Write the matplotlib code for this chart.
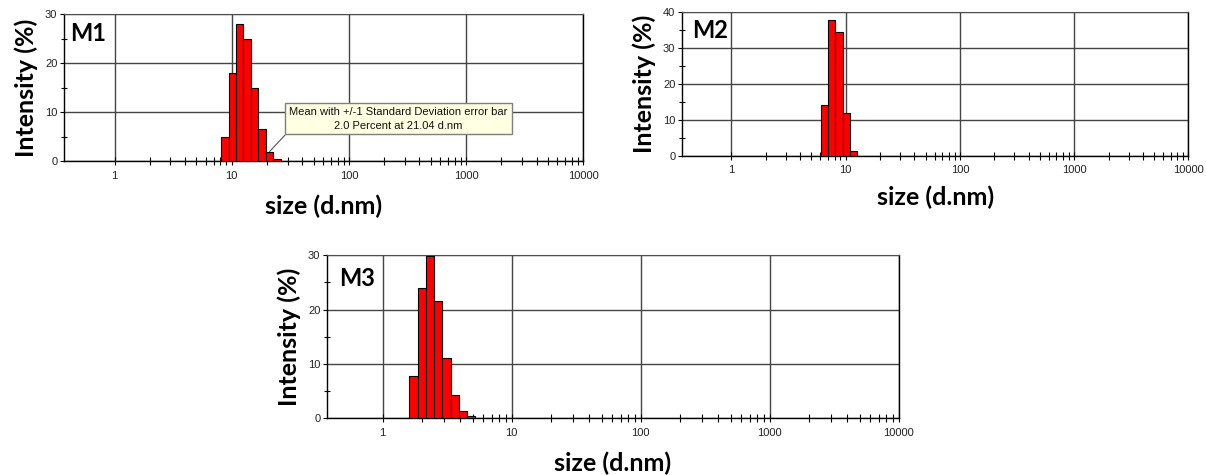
import numpy as np
import matplotlib
matplotlib.use("Agg")
import matplotlib.pyplot as plt
from matplotlib.ticker import FixedLocator, FixedFormatter, NullFormatter

# Zetasizer size classes (d.nm) and intensity distributions (%)
m1_sizes = [8.721, 10.10, 11.70, 13.54, 15.69, 18.17, 21.04, 24.36]
m1_intensity = [4.9, 18.0, 28.1, 25.0, 15.0, 6.5, 2.0, 0.4]

m2_sizes = [6.503, 7.531, 8.721, 10.10, 11.70]
m2_intensity = [14.1, 37.8, 34.4, 12.0, 1.4]

m3_sizes = [1.736, 2.010, 2.328, 2.696, 3.122, 3.615, 4.187, 4.849]
m3_intensity = [7.8, 23.9, 29.8, 21.6, 11.1, 4.35, 1.4, 0.4]

panel_names = ["M1", "M2", "M3"]
x_tick_values = [1, 10, 100, 1000, 10000]
x_tick_labels = ["1", "10", "100", "1000", "10000"]
y_max = [30, 40, 30]

class_ratio = 1.1581  # ratio between neighbouring size classes
x_range = (0.372, 10000)

BOLD = "Lato"
TICKFONT = "Liberation Sans"

fig = plt.figure(figsize=(12.06, 4.75), dpi=100)
fig.patch.set_facecolor("white")

rects = [
    [0.0533, 0.6604, 0.4303, 0.3095],
    [0.5658, 0.6722, 0.4196, 0.3025],
    [0.2714, 0.1194, 0.4738, 0.3432],
]
data = [(m1_sizes, m1_intensity), (m2_sizes, m2_intensity), (m3_sizes, m3_intensity)]
name_pos = [(0.011, 0.95), (0.019, 0.95), (0.021, 0.93)]
xlabel_pad = [10, 7, 10]

# minor ticks from 2 up to 9000
minor_x = [m * 10.0 ** e for e in range(0, 4) for m in range(2, 10)]

axes = []
for i, rect in enumerate(rects):
    ax = fig.add_axes(rect)
    sizes, inten = data[i]
    sizes = np.asarray(sizes)
    half = np.sqrt(class_ratio)
    left = sizes / half
    width = sizes * half - left
    ax.set_xscale("log")
    ax.bar(left, inten, width=width, align="edge", color="#ff0000",
           edgecolor="black", linewidth=0.8, zorder=3)
    ax.set_xlim(*x_range)
    ax.set_ylim(0, y_max[i])

    ax.xaxis.set_major_locator(FixedLocator(x_tick_values))
    ax.xaxis.set_major_formatter(FixedFormatter(x_tick_labels))
    ax.xaxis.set_minor_locator(FixedLocator(minor_x))
    ax.xaxis.set_minor_formatter(NullFormatter())
    ax.yaxis.set_major_locator(FixedLocator(list(range(0, y_max[i] + 1, 10))))
    ax.yaxis.set_minor_locator(FixedLocator(list(range(5, y_max[i], 10))))

    ax.tick_params(axis="x", which="major", direction="inout", length=6,
                   width=0.8, color="black", labelsize=8, labelcolor="#222222", pad=4)
    ax.tick_params(axis="x", which="minor", direction="inout", length=6,
                   width=0.8, color="black")
    ax.tick_params(axis="y", which="major", direction="out", length=3,
                   width=0.8, color="black", labelsize=8, labelcolor="#222222", pad=2)
    ax.tick_params(axis="y", which="minor", direction="inout", length=5,
                   width=0.8, color="black")
    for lab in ax.get_xticklabels() + ax.get_yticklabels():
        lab.set_fontfamily(TICKFONT)

    ax.grid(True, which="major", color="#454545", linewidth=1.0, zorder=1)
    ax.set_axisbelow(True)
    for side in ["left", "bottom", "right"]:
        ax.spines[side].set_color("black")
        ax.spines[side].set_linewidth(1.0)
    ax.spines["top"].set_color("#505050")

    ax.set_ylabel("Intensity (%)", fontfamily=BOLD, fontweight="bold",
                  fontsize=18, labelpad=5)
    ax.set_xlabel("size (d.nm)", fontfamily=BOLD, fontweight="bold",
                  fontsize=18, labelpad=xlabel_pad[i])
    ax.text(name_pos[i][0], name_pos[i][1], panel_names[i], transform=ax.transAxes,
            ha="left", va="top", fontfamily=BOLD, fontweight="bold", fontsize=17,
            color="black", zorder=5)
    axes.append(ax)

# Peak annotation on the first sample
ann_size = m1_sizes[6]
ann_value = m1_intensity[6]
axes[0].annotate(
    "Mean with +/-1 Standard Deviation error bar\n"
    f"{ann_value:.1f} Percent at {ann_size:.2f} d.nm",
    xy=(ann_size, ann_value), xycoords="data",
    xytext=(0.644, 0.288), textcoords="axes fraction",
    ha="center", va="center", fontsize=8, fontfamily=TICKFONT,
    linespacing=1.4, color="#111111", zorder=6,
    bbox=dict(boxstyle="square,pad=0.35", fc="#ffffe1", ec="#7f7f7f", lw=1.0),
    arrowprops=dict(arrowstyle="-", color="#555555", lw=0.8,
                    relpos=(0.0, 0.0), shrinkA=0, shrinkB=0),
)

fig.savefig("out.png", dpi=100, facecolor="white")
